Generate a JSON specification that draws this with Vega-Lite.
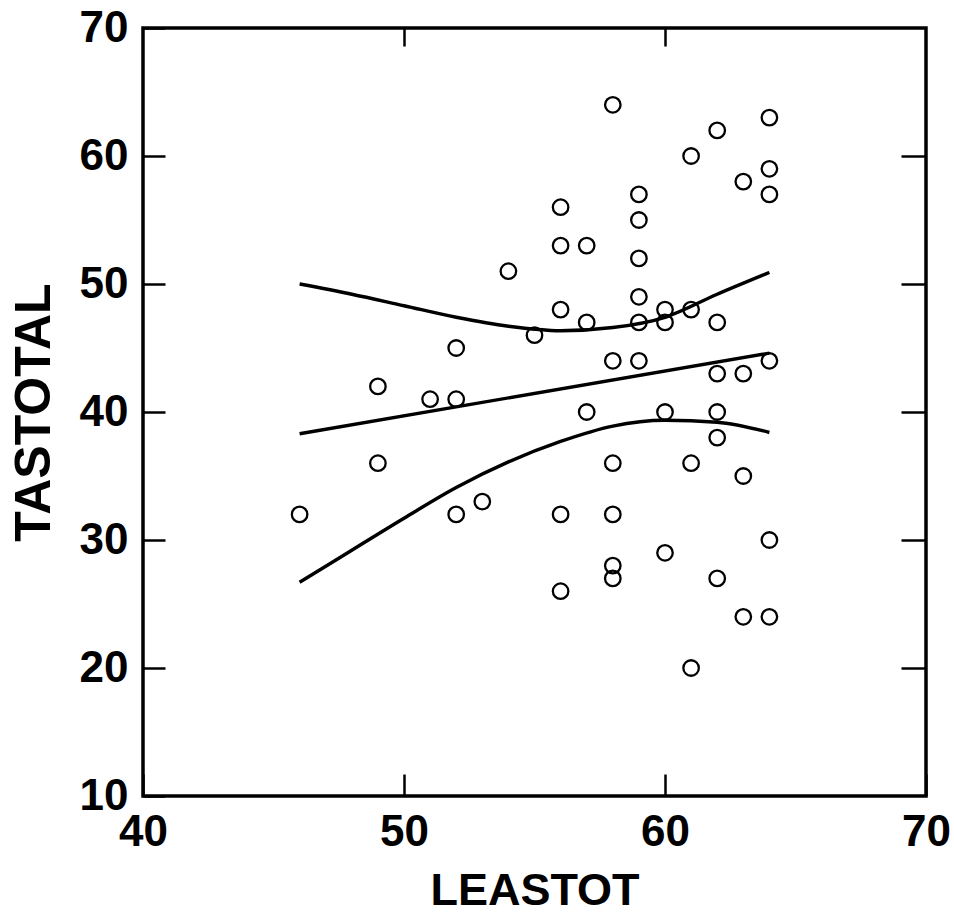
{
  "$schema": "https://vega.github.io/schema/vega-lite/v6.json",
  "autosize": "none",
  "width": 783,
  "height": 768,
  "padding": {"left": 143, "top": 28, "right": 28, "bottom": 120},
  "background": "white",
  "config": {
    "view": {"stroke": "black", "strokeWidth": 3.5},
    "axis": {"grid": false, "domain": false, "labelFont": "Liberation Sans", "titleFont": "Liberation Sans", "labelColor": "black", "titleColor": "black", "tickColor": "black", "labelFontSize": 44, "labelFontWeight": "bold", "titleFontSize": 46, "titleFontWeight": "bold", "labelOverlap": false, "labelFlush": false, "tickWidth": 2.5}
  },
  "layer": [
    {
      "data": {"values": [
        {"x": 46, "y": 32}, {"x": 49, "y": 42}, {"x": 49, "y": 36}, {"x": 51, "y": 41}, {"x": 52, "y": 41},
        {"x": 52, "y": 45}, {"x": 52, "y": 32}, {"x": 53, "y": 33}, {"x": 54, "y": 51}, {"x": 55, "y": 46},
        {"x": 56, "y": 56}, {"x": 56, "y": 53}, {"x": 56, "y": 48}, {"x": 56, "y": 32}, {"x": 56, "y": 26},
        {"x": 57, "y": 53}, {"x": 57, "y": 47}, {"x": 57, "y": 40},
        {"x": 58, "y": 64}, {"x": 58, "y": 44}, {"x": 58, "y": 36}, {"x": 58, "y": 32}, {"x": 58, "y": 28}, {"x": 58, "y": 27},
        {"x": 59, "y": 57}, {"x": 59, "y": 55}, {"x": 59, "y": 52}, {"x": 59, "y": 49}, {"x": 59, "y": 47}, {"x": 59, "y": 44},
        {"x": 60, "y": 48}, {"x": 60, "y": 47}, {"x": 60, "y": 40}, {"x": 60, "y": 29},
        {"x": 61, "y": 60}, {"x": 61, "y": 48}, {"x": 61, "y": 36}, {"x": 61, "y": 20},
        {"x": 62, "y": 62}, {"x": 62, "y": 47}, {"x": 62, "y": 43}, {"x": 62, "y": 40}, {"x": 62, "y": 38}, {"x": 62, "y": 27},
        {"x": 63, "y": 58}, {"x": 63, "y": 43}, {"x": 63, "y": 35}, {"x": 63, "y": 24},
        {"x": 64, "y": 63}, {"x": 64, "y": 59}, {"x": 64, "y": 57}, {"x": 64, "y": 44}, {"x": 64, "y": 30}, {"x": 64, "y": 24}
      ]},
      "mark": {"type": "point", "shape": "circle", "filled": false, "color": "black", "size": 240, "strokeWidth": 2.3, "opacity": 1},
      "encoding": {
        "x": {"field": "x", "type": "quantitative", "scale": {"domain": [40, 70], "nice": false, "zero": false},
              "axis": {"orient": "bottom", "values": [40, 50, 60, 70], "tickSize": -22, "labelPadding": 36, "title": "LEASTOT", "titleFontSize": 45, "titlePadding": 14}},
        "y": {"field": "y", "type": "quantitative", "scale": {"domain": [10, 70], "nice": false, "zero": false},
              "axis": {"orient": "left", "values": [10, 20, 30, 40, 50, 60, 70], "tickSize": -22, "labelPadding": 37, "title": "TASTOTAL", "titleFontSize": 50, "titlePadding": 20}}
      }
    },
    {
      "data": {"values": [
        {"band": "upper", "x": 46, "y": 50.0}, {"band": "upper", "x": 48, "y": 49.2}, {"band": "upper", "x": 50, "y": 48.3},
        {"band": "upper", "x": 52, "y": 47.4}, {"band": "upper", "x": 54, "y": 46.7}, {"band": "upper", "x": 56, "y": 46.35},
        {"band": "upper", "x": 58, "y": 46.6}, {"band": "upper", "x": 60, "y": 47.4}, {"band": "upper", "x": 62, "y": 49.2},
        {"band": "upper", "x": 64, "y": 50.9},
        {"band": "fit", "x": 46, "y": 38.3}, {"band": "fit", "x": 64, "y": 44.6},
        {"band": "lower", "x": 46, "y": 26.7}, {"band": "lower", "x": 48, "y": 29.2}, {"band": "lower", "x": 50, "y": 31.7},
        {"band": "lower", "x": 52, "y": 34.1}, {"band": "lower", "x": 54, "y": 36.1}, {"band": "lower", "x": 56, "y": 37.7},
        {"band": "lower", "x": 58, "y": 38.9}, {"band": "lower", "x": 60, "y": 39.35}, {"band": "lower", "x": 62, "y": 39.2},
        {"band": "lower", "x": 64, "y": 38.4}
      ]},
      "mark": {"type": "line", "color": "black", "strokeWidth": 3.4, "interpolate": "monotone"},
      "encoding": {
        "detail": {"field": "band", "type": "nominal"},
        "x": {"field": "x", "type": "quantitative", "scale": {"domain": [40, 70], "nice": false, "zero": false},
              "axis": {"orient": "top", "values": [50, 60], "tickSize": -18, "labels": false, "title": null}},
        "y": {"field": "y", "type": "quantitative", "scale": {"domain": [10, 70], "nice": false, "zero": false},
              "axis": {"orient": "right", "values": [20, 30, 40, 50, 60], "tickSize": -25, "labels": false, "title": null}}
      }
    }
  ],
  "resolve": {"axis": {"x": "independent", "y": "independent"}}
}
